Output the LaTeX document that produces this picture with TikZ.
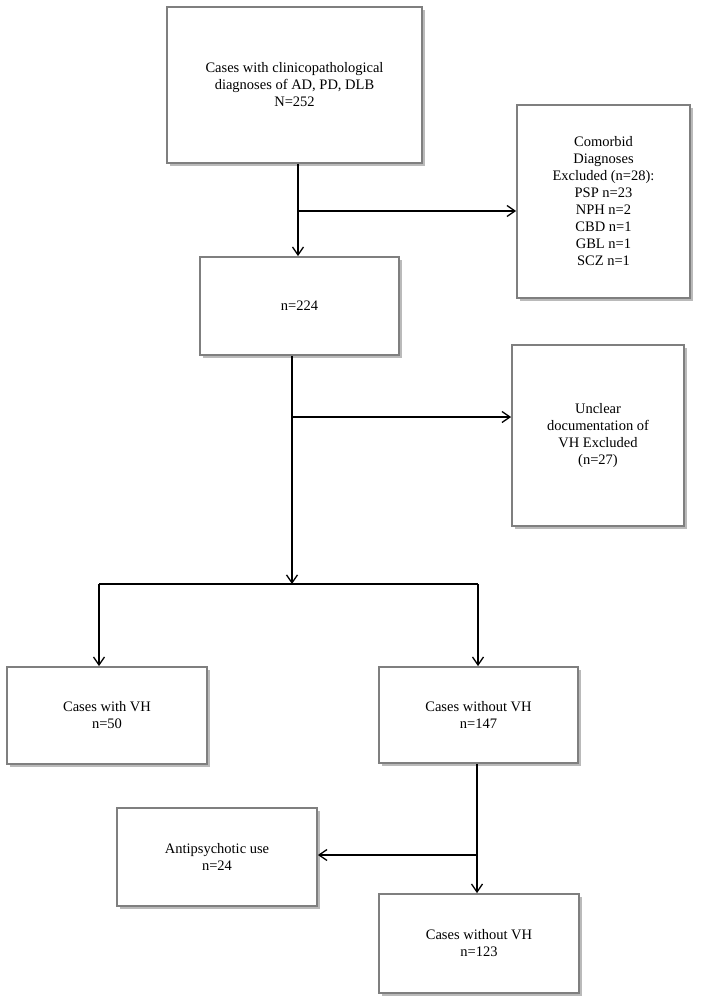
\documentclass[tikz,border=0pt]{standalone}
\usepackage{fontspec}
\setmainfont{Liberation Serif}
\usepackage{xcolor}
\usepackage{tikz}
\usetikzlibrary{arrows.meta,positioning,shadows}
\definecolor{edgec}{HTML}{7F7F7F}
\tikzset{
  ar/.style={-{Straight Barb[length=8pt,width=11pt]},line width=1.3pt,black},
  ln/.style={line width=1.3pt,black},
  box/.style={draw=edgec,line width=1.8pt,fill=white,align=center,inner sep=0pt,
    font=\fontsize{14.5}{17}\selectfont,
    drop shadow={shadow xshift=2.5pt,shadow yshift=-2.5pt,fill=black!45,opacity=0.6}}
}
\begin{document}
\begin{tikzpicture}[x=1pt,y=-1pt]
\useasboundingbox (0,0) rectangle (704,1007);
\node[box,minimum width=255pt,minimum height=156pt] (cases) at (294.5,85) {Cases with clinicopathological\\diagnoses of AD, PD, DLB\\N=252};
\node[box,minimum width=173pt,minimum height=193pt] (comorb) at (603.5,201.5) {Comorbid\\Diagnoses\\Excluded (n=28):\\PSP n=23\\NPH n=2\\CBD n=1\\GBL n=1\\SCZ n=1};
\node[box,minimum width=199pt,minimum height=98pt] (n224) at (299.5,306) {n=224};
\node[box,minimum width=172pt,minimum height=181pt] (unclear) at (598,435.5) {Unclear\\documentation of\\VH Excluded\\(n=27)};
\node[box,minimum width=200pt,minimum height=97pt] (withvh) at (107,715.5) {Cases with VH\\n=50};
\node[box,minimum width=199pt,minimum height=96pt] (novh) at (478.5,715) {Cases without VH\\n=147};
\node[box,minimum width=200pt,minimum height=98pt] (antip) at (217,857) {Antipsychotic use\\n=24};
\node[box,minimum width=200pt,minimum height=99pt] (novhb) at (479,943.5) {Cases without VH\\n=123};
% junctions
\coordinate (j1) at (298,211);
\coordinate (j2) at (292,417);
\coordinate (split) at (292,584);
\coordinate (sl) at (99,584);
\coordinate (sr) at (478,584);
\coordinate (j3) at (477,855);
\draw[ln] (j1 |- cases.south) -- (j1);
\draw[ar] (j1) -- (j1 -| comorb.west);
\draw[ar] (j1) -- (j1 |- n224.north);
\draw[ln] (j2 |- n224.south) -- (j2);
\draw[ar] (j2) -- (j2 -| unclear.west);
\draw[ar] (j2) -- (split);
\draw[ln] (sl) -- (sr);
\draw[ar] (sl) -- (sl |- withvh.north);
\draw[ar] (sr) -- (sr |- novh.north);
\draw[ln] (j3 |- novh.south) -- (j3);
\draw[ar] (j3) -- (j3 -| antip.east);
\draw[ar] (j3) -- (j3 |- novhb.north);
\end{tikzpicture}
\end{document}
